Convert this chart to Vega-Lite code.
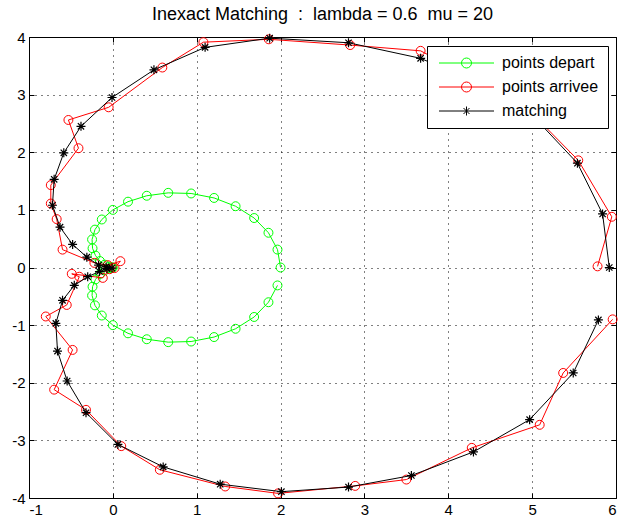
{
  "$schema": "https://vega.github.io/schema/vega-lite/v6.json",
  "width": 587,
  "height": 461,
  "autosize": {"type": "none"},
  "padding": {"left": 29, "top": 37, "right": 5, "bottom": 28},
  "background": "white",
  "title": {"text": "Inexact Matching \u00a0:\u00a0 lambda = 0.6 \u00a0mu = 20", "font": "Liberation Sans", "fontSize": 18, "fontWeight": "normal", "color": "black", "anchor": "middle", "offset": 6},
  "data": {"values": [
    {"s":"points depart","k":0,"x":2,"y":0},{"s":"points depart","k":1,"x":1.9632,"y":0.3109},{"s":"points depart","k":2,"x":1.8556,"y":0.6029},{"s":"points depart","k":3,"x":1.6849,"y":0.8585},{"s":"points depart","k":4,"x":1.4635,"y":1.0633},{"s":"points depart","k":5,"x":1.2071,"y":1.2071},{"s":"points depart","k":6,"x":0.9333,"y":1.2846},{"s":"points depart","k":7,"x":0.6601,"y":1.2955},{"s":"points depart","k":8,"x":0.4045,"y":1.245},{"s":"points depart","k":9,"x":0.1809,"y":1.1422},
    {"s":"points depart","k":10,"x":0,"y":1},{"s":"points depart","k":11,"x":-0.132,"y":0.8332},{"s":"points depart","k":12,"x":-0.2135,"y":0.6572},{"s":"points depart","k":13,"x":-0.2479,"y":0.4865},{"s":"points depart","k":14,"x":-0.2423,"y":0.3335},{"s":"points depart","k":15,"x":-0.2071,"y":0.2071},{"s":"points depart","k":16,"x":-0.1545,"y":0.1123},{"s":"points depart","k":17,"x":-0.0971,"y":0.0495},{"s":"points depart","k":18,"x":-0.0465,"y":0.0151},{"s":"points depart","k":19,"x":-0.0122,"y":0.0019},
    {"s":"points depart","k":20,"x":0,"y":0},{"s":"points depart","k":21,"x":-0.0122,"y":-0.0019},{"s":"points depart","k":22,"x":-0.0465,"y":-0.0151},{"s":"points depart","k":23,"x":-0.0971,"y":-0.0495},{"s":"points depart","k":24,"x":-0.1545,"y":-0.1123},{"s":"points depart","k":25,"x":-0.2071,"y":-0.2071},{"s":"points depart","k":26,"x":-0.2423,"y":-0.3335},{"s":"points depart","k":27,"x":-0.2479,"y":-0.4865},{"s":"points depart","k":28,"x":-0.2135,"y":-0.6572},{"s":"points depart","k":29,"x":-0.132,"y":-0.8332},
    {"s":"points depart","k":30,"x":0,"y":-1},{"s":"points depart","k":31,"x":0.1809,"y":-1.1422},{"s":"points depart","k":32,"x":0.4045,"y":-1.245},{"s":"points depart","k":33,"x":0.6601,"y":-1.2955},{"s":"points depart","k":34,"x":0.9333,"y":-1.2846},{"s":"points depart","k":35,"x":1.2071,"y":-1.2071},{"s":"points depart","k":36,"x":1.4635,"y":-1.0633},{"s":"points depart","k":37,"x":1.6849,"y":-0.8585},{"s":"points depart","k":38,"x":1.8556,"y":-0.6029},{"s":"points depart","k":39,"x":1.9632,"y":-0.3109},
    {"s":"points arrivee","k":0,"x":5.78,"y":0.02},{"s":"points arrivee","k":1,"x":5.95,"y":0.88},{"s":"points arrivee","k":2,"x":5.55,"y":1.86},{"s":"points arrivee","k":3,"x":5.05,"y":2.6},{"s":"points arrivee","k":4,"x":4.4,"y":3.2},{"s":"points arrivee","k":5,"x":3.67,"y":3.76},{"s":"points arrivee","k":6,"x":2.83,"y":3.86},{"s":"points arrivee","k":7,"x":1.86,"y":3.96},{"s":"points arrivee","k":8,"x":1.08,"y":3.91},{"s":"points arrivee","k":9,"x":0.59,"y":3.47},
    {"s":"points arrivee","k":10,"x":-0.05,"y":2.78},{"s":"points arrivee","k":11,"x":-0.53,"y":2.56},{"s":"points arrivee","k":12,"x":-0.41,"y":2.07},{"s":"points arrivee","k":13,"x":-0.74,"y":1.43},{"s":"points arrivee","k":14,"x":-0.74,"y":1.11},{"s":"points arrivee","k":15,"x":-0.67,"y":0.84},{"s":"points arrivee","k":16,"x":-0.6,"y":0.31},{"s":"points arrivee","k":17,"x":-0.22,"y":0.08},{"s":"points arrivee","k":18,"x":-0.06,"y":0.04},{"s":"points arrivee","k":19,"x":0.09,"y":0.11},
    {"s":"points arrivee","k":20,"x":0.02,"y":-0.01},{"s":"points arrivee","k":21,"x":-0.04,"y":-0.03},{"s":"points arrivee","k":22,"x":-0.12,"y":-0.18},{"s":"points arrivee","k":23,"x":-0.49,"y":-0.11},{"s":"points arrivee","k":24,"x":-0.4,"y":-0.16},{"s":"points arrivee","k":25,"x":-0.55,"y":-0.65},{"s":"points arrivee","k":26,"x":-0.8,"y":-0.85},{"s":"points arrivee","k":27,"x":-0.48,"y":-1.43},{"s":"points arrivee","k":28,"x":-0.7,"y":-2.12},{"s":"points arrivee","k":29,"x":-0.32,"y":-2.47},
    {"s":"points arrivee","k":30,"x":0.1,"y":-3.1},{"s":"points arrivee","k":31,"x":0.56,"y":-3.51},{"s":"points arrivee","k":32,"x":1.34,"y":-3.8},{"s":"points arrivee","k":33,"x":1.97,"y":-3.92},{"s":"points arrivee","k":34,"x":2.89,"y":-3.79},{"s":"points arrivee","k":35,"x":3.5,"y":-3.68},{"s":"points arrivee","k":36,"x":4.28,"y":-3.13},{"s":"points arrivee","k":37,"x":5.09,"y":-2.73},{"s":"points arrivee","k":38,"x":5.37,"y":-1.83},{"s":"points arrivee","k":39,"x":5.96,"y":-0.9},
    {"s":"matching","k":0,"x":5.92,"y":0},{"s":"matching","k":1,"x":5.84,"y":0.93},{"s":"matching","k":2,"x":5.54,"y":1.81},{"s":"matching","k":3,"x":5.03,"y":2.6},{"s":"matching","k":4,"x":4.35,"y":3.2},{"s":"matching","k":5,"x":3.67,"y":3.63},{"s":"matching","k":6,"x":2.81,"y":3.9},{"s":"matching","k":7,"x":1.87,"y":3.98},{"s":"matching","k":8,"x":1.1,"y":3.82},{"s":"matching","k":9,"x":0.49,"y":3.43},
    {"s":"matching","k":10,"x":-0.01,"y":2.95},{"s":"matching","k":11,"x":-0.38,"y":2.45},{"s":"matching","k":12,"x":-0.585,"y":1.99},{"s":"matching","k":13,"x":-0.7,"y":1.53},{"s":"matching","k":14,"x":-0.72,"y":1.08},{"s":"matching","k":15,"x":-0.63,"y":0.7},{"s":"matching","k":16,"x":-0.48,"y":0.4},{"s":"matching","k":17,"x":-0.31,"y":0.18},{"s":"matching","k":18,"x":-0.17,"y":0.04},{"s":"matching","k":19,"x":-0.08,"y":0.01},
    {"s":"matching","k":20,"x":-0.01,"y":-0.01},{"s":"matching","k":21,"x":-0.07,"y":-0.02},{"s":"matching","k":22,"x":-0.16,"y":-0.07},{"s":"matching","k":23,"x":-0.3,"y":-0.16},{"s":"matching","k":24,"x":-0.46,"y":-0.31},{"s":"matching","k":25,"x":-0.6,"y":-0.57},{"s":"matching","k":26,"x":-0.68,"y":-0.97},{"s":"matching","k":27,"x":-0.66,"y":-1.45},{"s":"matching","k":28,"x":-0.545,"y":-1.97},{"s":"matching","k":29,"x":-0.32,"y":-2.52},
    {"s":"matching","k":30,"x":0.06,"y":-3.07},{"s":"matching","k":31,"x":0.6,"y":-3.46},{"s":"matching","k":32,"x":1.28,"y":-3.76},{"s":"matching","k":33,"x":2.01,"y":-3.89},{"s":"matching","k":34,"x":2.81,"y":-3.81},{"s":"matching","k":35,"x":3.56,"y":-3.61},{"s":"matching","k":36,"x":4.3,"y":-3.2},{"s":"matching","k":37,"x":4.97,"y":-2.64},{"s":"matching","k":38,"x":5.49,"y":-1.83},{"s":"matching","k":39,"x":5.79,"y":-0.91}
  ]},
  "layer": [
    {
      "transform": [{"filter": "datum.s == 'points depart'"}],
      "mark": {"type": "line", "strokeWidth": 1, "color": "#00ff00"},
      "encoding": {
        "x": {"field": "x", "type": "quantitative", "scale": {"domain": [-1, 6], "nice": false, "zero": false}, "axis": {"orient": "bottom", "values": [-1,0,1,2,3,4,5,6], "grid": true, "title": null, "labelExpr": "datum.value + ''"}},
        "y": {"field": "y", "type": "quantitative", "scale": {"domain": [-4, 4], "nice": false, "zero": false}, "axis": {"orient": "left", "values": [-4,-3,-2,-1,0,1,2,3,4], "grid": true, "title": null, "labelExpr": "datum.value + ''"}},
        "order": {"field": "k", "type": "quantitative"}
      }
    },
    {
      "transform": [{"filter": "datum.s == 'points depart'"}],
      "mark": {"type": "point", "shape": "circle", "filled": false, "size": 80, "strokeWidth": 1, "opacity": 1, "color": "#00ff00"},
      "encoding": {
        "x": {"field": "x", "type": "quantitative", "scale": {"domain": [-1, 6], "nice": false, "zero": false}, "axis": null},
        "y": {"field": "y", "type": "quantitative", "scale": {"domain": [-4, 4], "nice": false, "zero": false}, "axis": null}
      }
    },
    {
      "transform": [{"filter": "datum.s == 'points arrivee'"}],
      "mark": {"type": "line", "strokeWidth": 1, "color": "#ff0000"},
      "encoding": {
        "x": {"field": "x", "type": "quantitative", "scale": {"domain": [-1, 6], "nice": false, "zero": false}, "axis": null},
        "y": {"field": "y", "type": "quantitative", "scale": {"domain": [-4, 4], "nice": false, "zero": false}, "axis": null},
        "order": {"field": "k", "type": "quantitative"}
      }
    },
    {
      "transform": [{"filter": "datum.s == 'points arrivee'"}],
      "mark": {"type": "point", "shape": "circle", "filled": false, "size": 80, "strokeWidth": 1, "opacity": 1, "color": "#ff0000"},
      "encoding": {
        "x": {"field": "x", "type": "quantitative", "scale": {"domain": [-1, 6], "nice": false, "zero": false}, "axis": null},
        "y": {"field": "y", "type": "quantitative", "scale": {"domain": [-4, 4], "nice": false, "zero": false}, "axis": null}
      }
    },
    {
      "transform": [{"filter": "datum.s == 'matching'"}],
      "mark": {"type": "line", "strokeWidth": 1, "color": "#000000"},
      "encoding": {
        "x": {"field": "x", "type": "quantitative", "scale": {"domain": [-1, 6], "nice": false, "zero": false}, "axis": null},
        "y": {"field": "y", "type": "quantitative", "scale": {"domain": [-4, 4], "nice": false, "zero": false}, "axis": null},
        "order": {"field": "k", "type": "quantitative"}
      }
    },
    {
      "transform": [{"filter": "datum.s == 'matching'"}],
      "mark": {"type": "point", "shape": "M0,-1L0,1M-1,0L1,0M-0.7,-0.7L0.7,0.7M-0.7,0.7L0.7,-0.7", "filled": false, "size": 81, "strokeWidth": 1.2, "opacity": 1, "color": "#000000"},
      "encoding": {
        "x": {"field": "x", "type": "quantitative", "scale": {"domain": [-1, 6], "nice": false, "zero": false}, "axis": null},
        "y": {"field": "y", "type": "quantitative", "scale": {"domain": [-4, 4], "nice": false, "zero": false}, "axis": null}
      }
    },
    {
      "transform": [{"filter": "false"}],
      "mark": {"type": "point", "filled": false, "strokeWidth": 1, "opacity": 1},
      "encoding": {
        "x": {"field": "x", "type": "quantitative", "scale": {"domain": [-1, 6], "nice": false, "zero": false}, "axis": {"orient": "top", "values": [-1,0,1,2,3,4,5,6], "labels": false, "grid": false, "title": null}},
        "y": {"field": "y", "type": "quantitative", "scale": {"domain": [-4, 4], "nice": false, "zero": false}, "axis": {"orient": "right", "values": [-4,-3,-2,-1,0,1,2,3,4], "labels": false, "grid": false, "title": null}},
        "color": {"field": "s", "type": "nominal", "scale": {"domain": ["points depart", "points arrivee", "matching"], "range": ["#00ff00", "#ff0000", "#000000"]}, "legend": {"orient": "none", "legendX": 398, "legendY": 9, "title": null, "strokeColor": "black", "fillColor": "white", "padding": 9, "labelFont": "Liberation Sans", "labelFontSize": 16, "labelColor": "black", "symbolSize": 100, "symbolStrokeWidth": 1, "symbolOpacity": 1, "labelOffset": 50, "rowPadding": 8, "cornerRadius": 0}},
        "shape": {"field": "s", "type": "nominal", "scale": {"domain": ["points depart", "points arrivee", "matching"], "range": ["M-1,0L10,0M3.5,0A1,1,0,1,0,5.5,0A1,1,0,1,0,3.5,0", "M-1,0L10,0M3.5,0A1,1,0,1,0,5.5,0A1,1,0,1,0,3.5,0", "M-1,0L10,0M4.5,-0.9L4.5,0.9M3.9,-0.6L5.1,0.6M3.9,0.6L5.1,-0.6"]}, "legend": {"orient": "none", "legendX": 398, "legendY": 9, "title": null, "strokeColor": "black", "fillColor": "white", "padding": 9, "labelFont": "Liberation Sans", "labelFontSize": 16, "labelColor": "black", "symbolSize": 100, "symbolStrokeWidth": 1, "symbolOpacity": 1, "labelOffset": 50, "rowPadding": 8, "cornerRadius": 0}}
      }
    }
  ],
  "resolve": {"axis": {"x": "independent", "y": "independent"}},
  "config": {
    "view": {"stroke": "black", "strokeWidth": 1},
    "axis": {"domain": false, "ticks": true, "tickColor": "black", "tickSize": -5, "tickWidth": 1, "labelPadding": 9, "labelFont": "Liberation Sans", "labelFontSize": 15, "labelColor": "black", "gridColor": "black", "gridDash": [1, 5], "gridOpacity": 1, "gridWidth": 1}
  }
}
